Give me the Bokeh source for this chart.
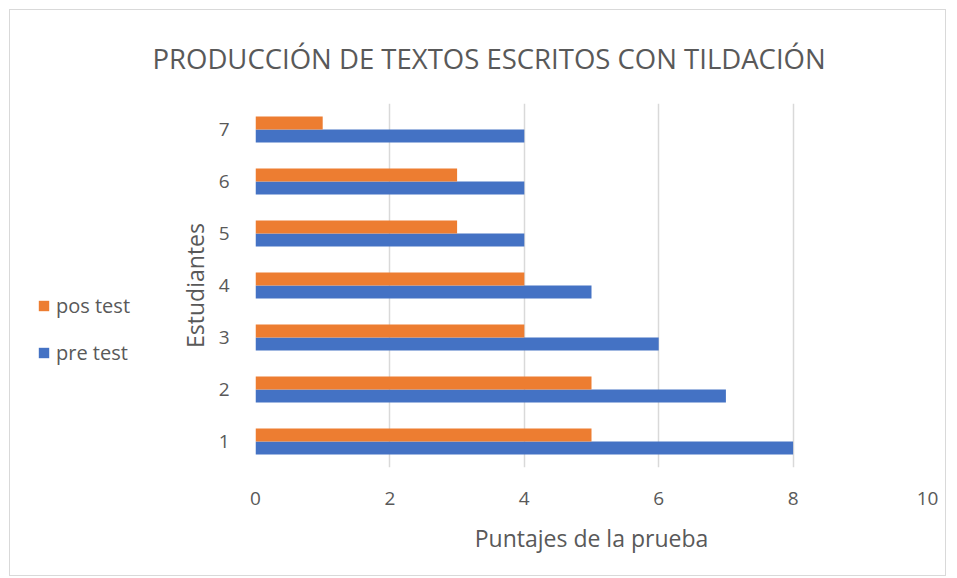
from bokeh.plotting import figure
from bokeh.models import ColumnDataSource, Range1d, Legend, LegendItem, FixedTicker, Title
from bokeh.layouts import row
from bokeh.transform import dodge
from bokeh.embed import file_html
from bokeh.resources import INLINE

students = [1, 2, 3, 4, 5, 6, 7]
pre_test = [8, 7, 6, 5, 4, 4, 4]
pos_test = [5, 5, 4, 4, 3, 3, 1]
x_ticks = [0, 2, 4, 6, 8, 10]

FONT = "Open Sans"
GREY = "#595959"
BLUE = "#4472C4"
ORANGE = "#ED7D31"

src = ColumnDataSource(dict(y=students, pre=pre_test, pos=pos_test))

# main chart
p = figure(width=795, height=565, output_backend="svg", toolbar_location=None,
           x_range=Range1d(0, 10), y_range=Range1d(0.5, 7.5),
           min_border_left=105, min_border_right=18, min_border_top=92, min_border_bottom=108)

p.hbar(y=dodge('y', -0.125), right='pre', left=0, height=0.25, source=src,
       fill_color=BLUE, line_color=None)
p.hbar(y=dodge('y', 0.125), right='pos', left=0, height=0.25, source=src,
       fill_color=ORANGE, line_color=None)

p.title = Title(text="PRODUCCIÓN DE TEXTOS ESCRITOS CON TILDACIÓN", align="left",
                offset=-103, text_font=FONT, text_font_size="27.5px", text_color=GREY,
                text_font_style="normal", standoff=54)

p.xaxis.ticker = FixedTicker(ticks=x_ticks)
p.yaxis.ticker = FixedTicker(ticks=students)
for ax in (p.xaxis[0], p.yaxis[0]):
    ax.axis_line_color = None
    ax.major_tick_line_color = None
    ax.minor_tick_line_color = None
    ax.major_label_text_font = FONT
    ax.major_label_text_font_size = "19px"
    ax.major_label_text_color = GREY
    ax.axis_label_text_font = FONT
    ax.axis_label_text_font_size = "23px"
    ax.axis_label_text_color = GREY
    ax.axis_label_text_font_style = "normal"

p.xaxis.axis_label = "Puntajes de la prueba"
p.xaxis.major_label_standoff = 18
p.xaxis.axis_label_standoff = 14
p.yaxis.axis_label = "Estudiantes"
p.yaxis.major_label_standoff = 20
p.yaxis.axis_label_standoff = 5

p.xgrid.ticker = FixedTicker(ticks=x_ticks)
p.xgrid.grid_line_color = "#d9d9d9"
p.xgrid.grid_line_width = 1.5
p.ygrid.grid_line_color = None
p.outline_line_color = None

# legend panel (left of the chart)
lp = figure(width=140, height=565, output_backend="svg", toolbar_location=None,
            x_axis_location=None, y_axis_location=None,
            min_border_left=0, min_border_right=0, min_border_top=0, min_border_bottom=0)
lp.grid.grid_line_color = None
lp.outline_line_color = None
k_pos = lp.hbar(y='y', right='pos', height=0.25, source=src, fill_color=ORANGE, line_color=None, visible=False)
k_pre = lp.hbar(y='y', right='pre', height=0.25, source=src, fill_color=BLUE, line_color=None, visible=False)

legend = Legend(items=[LegendItem(label="pos test", renderers=[k_pos]),
                       LegendItem(label="pre test", renderers=[k_pre])],
                location=(27, 101), orientation="vertical",
                glyph_width=13, glyph_height=13, label_height=20, spacing=20,
                label_standoff=6, padding=0, margin=0,
                label_text_font=FONT, label_text_font_size="20px", label_text_color=GREY,
                border_line_color=None, background_fill_alpha=0)
lp.add_layout(legend, "center")

layout = row(lp, p, styles={"border": "1px solid #d9d9d9", "margin-left": "9px", "margin-top": "9px"})

open("out.html", "w").write(file_html(layout, INLINE))
